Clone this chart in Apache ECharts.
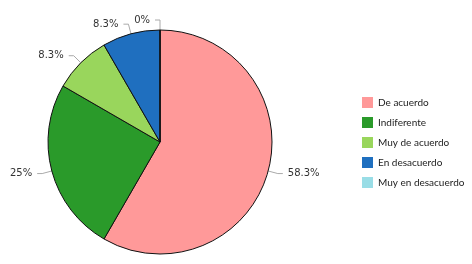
<!DOCTYPE html>
<html>
<head>
<meta charset="utf-8">
<script src="https://cdn.jsdelivr.net/npm/echarts@6/dist/echarts.min.js"></script>
<style>
  html, body { margin: 0; padding: 0; background: #fff; }
  #chart { width: 472px; height: 264px; }
</style>
</head>
<body>
<div id="chart"></div>
<script>
const categories = ['De acuerdo', 'Indiferente', 'Muy de acuerdo', 'En desacuerdo', 'Muy en desacuerdo'];
const counts = [7, 3, 1, 1, 0];
const colors = ['#ff9999', '#2a9a2a', '#99d65c', '#1f6fbf', '#99dde6'];

const total = counts.reduce((a, b) => a + b, 0);

const chart = echarts.init(document.getElementById('chart'));

let option = {
  animation: false,
  legend: {
    orient: 'vertical',
    left: 357,
    top: 92,
    itemWidth: 11,
    itemHeight: 11,
    itemGap: 9,
    icon: 'rect',
    itemStyle: { borderWidth: 0 },
    textStyle: { fontSize: 10, color: '#222', fontFamily: 'Lato' },
    data: categories
  },
  series: [{
    type: 'pie',
    center: [160, 142],
    radius: 112,
    startAngle: 90,
    clockwise: true,
    avoidLabelOverlap: false,
    itemStyle: { borderColor: '#111', borderWidth: 1 },
    label: {
      formatter: function (p) {
        return Math.round(p.value / total * 1000) / 10 + '%';
      },
      fontSize: 10,
      color: '#333',
      fontFamily: 'DejaVu Sans'
    },
    labelLine: {
      length: 10,
      length2: 5,
      lineStyle: { color: '#aaa', width: 1 }
    },
    data: categories.map((name, i) => ({
      name: name,
      value: counts[i],
      itemStyle: { color: colors[i] }
    }))
  }]
};

chart.setOption(option);
</script>
</body>
</html>
